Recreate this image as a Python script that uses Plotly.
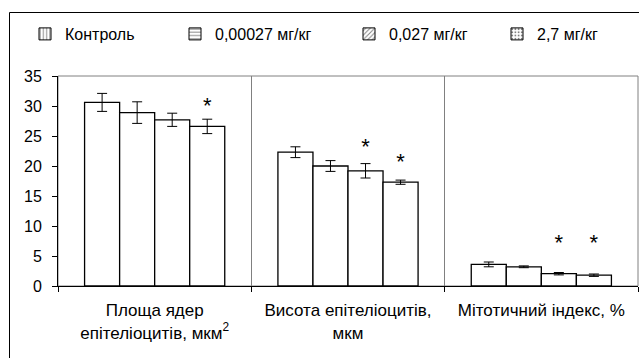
import plotly.graph_objects as go
import numpy as np

categories = ["Площа ядер<br>епітеліоцитів, мкм<sup>2</sup>",
              "Висота епітеліоцитів,<br>мкм",
              "Мітотичний індекс, %"]
series_names = ["Контроль", "0,00027 мг/кг", "0,027 мг/кг", "2,7 мг/кг"]
control = [30.6, 22.3, 3.6]
control_err = [1.5, 0.9, 0.4]
dose1 = [28.9, 20.0, 3.2]
dose1_err = [1.8, 0.9, 0.15]
dose2 = [27.7, 19.2, 2.05]
dose2_err = [1.1, 1.2, 0.2]
dose3 = [26.6, 17.3, 1.8]
dose3_err = [1.2, 0.35, 0.2]
# asterisk (significance) levels
stars_dose2 = [None, 23.0, 7.0]
stars_dose3 = [29.7, 20.5, 7.0]
y_ticks = [0, 5, 10, 15, 20, 25, 30, 35]

values = [control, dose1, dose2, dose3]
errors = [control_err, dose1_err, dose2_err, dose3_err]
stars = [None, None, stars_dose2, stars_dose3]
patterns = ["|", "-", "/", "."]

FONT = "Liberation Sans, Arial, sans-serif"
W, H = 639, 358
ML, MR, MT, MB = 58, 1, 76, 72
PW, PH = W - ML - MR, H - MT - MB

def px_x(p):
    return (p - ML) / PW

def px_y(p):
    return (H - MB - p) / PH

group_width = 0.725
n = len(values)
bw = group_width / n
base = np.arange(len(categories))

fig = go.Figure()
for i, (vals, errs) in enumerate(zip(values, errors)):
    xs = base + (i - (n - 1) / 2) * bw
    fig.add_trace(go.Bar(
        x=xs, y=vals, width=bw, showlegend=False,
        marker=dict(color="white", line=dict(color="black", width=1.3)),
        error_y=dict(type="data", array=errs, color="black", thickness=1, width=5),
    ))
    if stars[i] is not None:
        keep = [j for j, s in enumerate(stars[i]) if s is not None]
        fig.add_trace(go.Scatter(
            x=[xs[j] for j in keep], y=[stars[i][j] for j in keep], mode="text",
            text=["*"] * len(keep),
            textposition="middle center",
            textfont=dict(family=FONT, size=22, color="black"),
            showlegend=False, hoverinfo="skip",
        ))

legend_text_px = [67, 217, 391, 539]
for i, name in enumerate(series_names):
    lg = "legend" if i == 0 else f"legend{i+1}"
    fig.add_trace(go.Bar(
        x=[None], y=[None], name=name, legend=lg,
        marker=dict(color="white", line=dict(color="black", width=1),
                    pattern=dict(shape=patterns[i], size=4, fgcolor="black", solidity=0.3)),
    ))

legend_common = dict(orientation="h", yanchor="top", y=px_y(17), xanchor="left",
                     font=dict(family=FONT, size=16, color="black"),
                     bgcolor="rgba(0,0,0,0)", borderwidth=0)
layout_legends = {}
for i in range(n):
    lg = "legend" if i == 0 else f"legend{i+1}"
    d = dict(legend_common)
    d["x"] = px_x(legend_text_px[i] - 42)
    layout_legends[lg] = d

fig.update_layout(
    width=W, height=H,
    margin=dict(l=ML, r=MR, t=MT, b=MB),
    paper_bgcolor="white", plot_bgcolor="white",
    barmode="overlay",
    font=dict(family=FONT, size=16, color="black"),
    xaxis=dict(
        range=[-0.5, len(categories) - 0.5],
        tickmode="array", tickvals=base, ticktext=categories,
        ticks="", showgrid=False, zeroline=False,
        showline=True, linecolor="black", linewidth=1,
        tickfont=dict(family=FONT, size=17, color="black"),
        ticklabelstandoff=9,
        minor=dict(tickmode="array", tickvals=list(base - 0.5) + [base[-1] + 0.5],
                   ticks="outside", ticklen=5, tickcolor="black",
                   showgrid=True, gridcolor="#808080", gridwidth=1),
        fixedrange=True,
    ),
    yaxis=dict(
        range=[0, 35], tickmode="array", tickvals=y_ticks,
        ticks="outside", ticklen=5, tickcolor="black",
        showline=True, linecolor="black", linewidth=1,
        showgrid=False, zeroline=False,
        tickfont=dict(family=FONT, size=16, color="black"),
        ticklabelstandoff=7,
        fixedrange=True,
    ),
    shapes=[
        dict(type="rect", xref="paper", yref="paper", x0=0, x1=1, y0=0, y1=1,
             line=dict(color="#808080", width=1), layer="below"),
        dict(type="line", xref="paper", yref="paper", x0=px_x(9.5), x1=px_x(W),
             y0=px_y(12.5), y1=px_y(12.5), line=dict(color="black", width=1), layer="below"),
        dict(type="line", xref="paper", yref="paper", x0=px_x(9.5), x1=px_x(9.5),
             y0=px_y(12.5), y1=px_y(H), line=dict(color="black", width=1), layer="below"),
    ],
    **layout_legends,
)

css_js = (
    "var st=document.createElement('style');"
    "st.textContent='html,body{margin:0;overflow:hidden;scrollbar-width:none;}"
    "::-webkit-scrollbar{display:none;width:0;height:0;}';"
    "document.head.appendChild(st);"
)
fig.write_html("out.html", config={"displayModeBar": False}, post_script=css_js)
